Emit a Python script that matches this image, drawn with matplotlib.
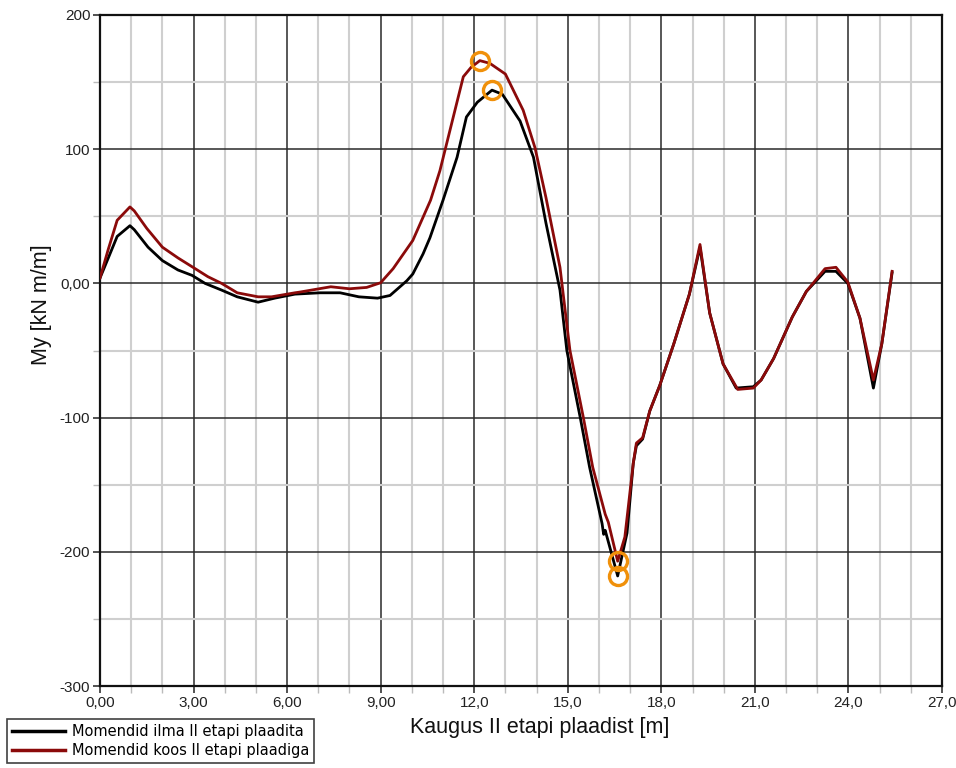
import matplotlib
matplotlib.use("Agg")
import matplotlib.pyplot as plt
from matplotlib.ticker import MultipleLocator, FixedLocator, FixedFormatter
import numpy as np

# Bending moments along the slab, without the stage II slab
x_ilma = [0.0, 0.26, 0.55, 0.96, 1.1, 1.54, 2.0, 2.5, 2.95, 3.37, 3.9, 4.4, 5.07,
          5.6, 6.25, 7.05, 7.7, 8.3, 8.9, 9.3, 9.84, 10.03, 10.36, 10.58, 11.0,
          11.45, 11.75, 12.1, 12.57, 12.9, 13.47, 13.9, 14.3, 14.75, 14.97, 15.4,
          15.7, 16.1, 16.15, 16.2, 16.6, 16.9, 17.1, 17.2, 17.4, 17.63, 17.95,
          18.4, 18.9, 19.24, 19.55, 19.98, 20.4, 20.95, 21.2, 21.6, 22.2, 22.65,
          23.25, 23.6, 23.98, 24.37, 24.8, 25.07, 25.4]
my_ilma = [4, 18.6, 35, 43, 40, 27, 17, 10, 6, 0, -5, -10, -14,
           -11, -8, -7, -7, -10, -11, -9, 2, 7, 22, 34, 62,
           94, 124, 135, 144, 141, 121, 94, 45, -5, -50, -100,
           -137, -179, -187, -184, -218, -186, -134, -121, -116, -95, -76,
           -45, -8, 27, -22, -60, -78, -77, -72, -56, -25, -6,
           9, 9, 0, -26, -78, -45, 8]

# Bending moments along the slab, with the stage II slab
x_koos = [0.0, 0.26, 0.55, 0.96, 1.1, 1.5, 2.0, 2.5, 3.05, 3.46, 3.9, 4.4, 5.07,
          5.5, 6.25, 6.4, 7.4, 8.0, 8.55, 9.0, 9.4, 10.03, 10.6, 10.9,
          11.2, 11.65, 11.9, 12.18, 12.5, 13.0, 13.57, 13.95, 14.3, 14.75, 15.07,
          15.5, 15.8, 16.2, 16.3, 16.6, 16.83, 17.1, 17.2, 17.4, 17.63, 17.95,
          18.4, 18.9, 19.24, 19.55, 19.98, 20.45, 20.95, 21.2, 21.6, 22.2, 22.65,
          23.25, 23.6, 23.98, 24.37, 24.8, 25.07, 25.4]
my_koos = [4, 25, 47, 57, 54, 41, 27, 19, 11, 5, 0, -7, -10,
           -10, -7, -6.5, -2.5, -4, -3, 0.5, 11, 32, 62, 84,
           112, 154, 161, 166, 164, 156, 129, 101, 64, 12, -50,
           -100, -137, -172, -178, -207, -189, -134, -119, -115, -95, -76,
           -45, -8, 29, -22, -60, -79, -78, -72, -56, -25, -6,
           11, 12, 1, -26, -72, -45, 9]

x_ticks = [0, 3, 6, 9, 12, 15, 18, 21, 24, 27]
x_tick_labels = ["0,00", "3,00", "6,00", "9,00", "12,0", "15,0", "18,0", "21,0", "24,0", "27,0"]
y_ticks = [-300, -200, -100, 0, 100, 200]
y_tick_labels = ["-300", "-200", "-100", "0,00", "100", "200"]

label_ilma = "Momendid ilma II etapi plaadita"
label_koos = "Momendid koos II etapi plaadiga"

fig = plt.figure(figsize=(9.56, 7.68), dpi=100)
ax = fig.add_axes([100 / 956, 1 - 686 / 768, 842 / 956, 671 / 768])

ax.set_xlim(0, 27)
ax.set_ylim(-300, 200)

ax.xaxis.set_major_locator(FixedLocator(x_ticks))
ax.xaxis.set_major_formatter(FixedFormatter(x_tick_labels))
ax.yaxis.set_major_locator(FixedLocator(y_ticks))
ax.yaxis.set_major_formatter(FixedFormatter(y_tick_labels))
ax.xaxis.set_minor_locator(MultipleLocator(1))
ax.yaxis.set_minor_locator(MultipleLocator(50))

ax.grid(which="minor", color="#cfcfcf", linewidth=1.5, zorder=0)
ax.grid(which="major", color="#2a2a2a", linewidth=1.1, zorder=0.5)
ax.set_axisbelow(True)

ax.tick_params(which="major", direction="out", length=5, width=1.2, color="#333333",
               labelsize=11, pad=2)
ax.tick_params(which="minor", direction="out", length=5, width=1.0, color="#bbbbbb")
for lab in ax.get_xticklabels() + ax.get_yticklabels():
    lab.set_family("Liberation Sans")
    lab.set_color("#222222")

for sp in ax.spines.values():
    sp.set_linewidth(1.6)
    sp.set_color("#111111")

l1, = ax.plot(x_ilma, my_ilma, color="#000000", linewidth=2.0, zorder=3, label=label_ilma)
l2, = ax.plot(x_koos, my_koos, color="#8b0a0a", linewidth=2.0, zorder=4, label=label_koos)

# Extreme values of each series marked with rings
ring = dict(marker="o", markersize=13, markerfacecolor="none",
            markeredgecolor="#f0900a", markeredgewidth=2.4, linestyle="none", zorder=5)
for xs, ys in ((x_ilma, my_ilma), (x_koos, my_koos)):
    i_max = int(np.argmax(ys))
    i_min = int(np.argmin(ys))
    ax.plot([xs[i_max], xs[i_min]], [ys[i_max], ys[i_min]], **ring)

ax.set_xlabel("Kaugus II etapi plaadist [m]", family="Liberation Sans", fontsize=15.5,
              color="#111111")
ax.set_ylabel("My [kN m/m]", family="Liberation Sans", fontsize=15.5, color="#111111")
ax.xaxis.set_label_coords(0.5226, -0.046)
ax.yaxis.set_label_coords(-0.057, 0.569)

leg = fig.legend(handles=[l1, l2], loc="upper left",
                 bbox_to_anchor=(7 / 956, 1 - 719 / 768),
                 prop={"family": "DejaVu Sans", "size": 10.5},
                 frameon=True, fancybox=False, borderaxespad=0, borderpad=0.35,
                 handlelength=3.6, handletextpad=0.5, labelspacing=0.25)
leg.get_frame().set_edgecolor("#111111")
leg.get_frame().set_linewidth(1.2)
for ln in leg.get_lines():
    ln.set_linewidth(2.5)

fig.savefig("out.png", dpi=100)
